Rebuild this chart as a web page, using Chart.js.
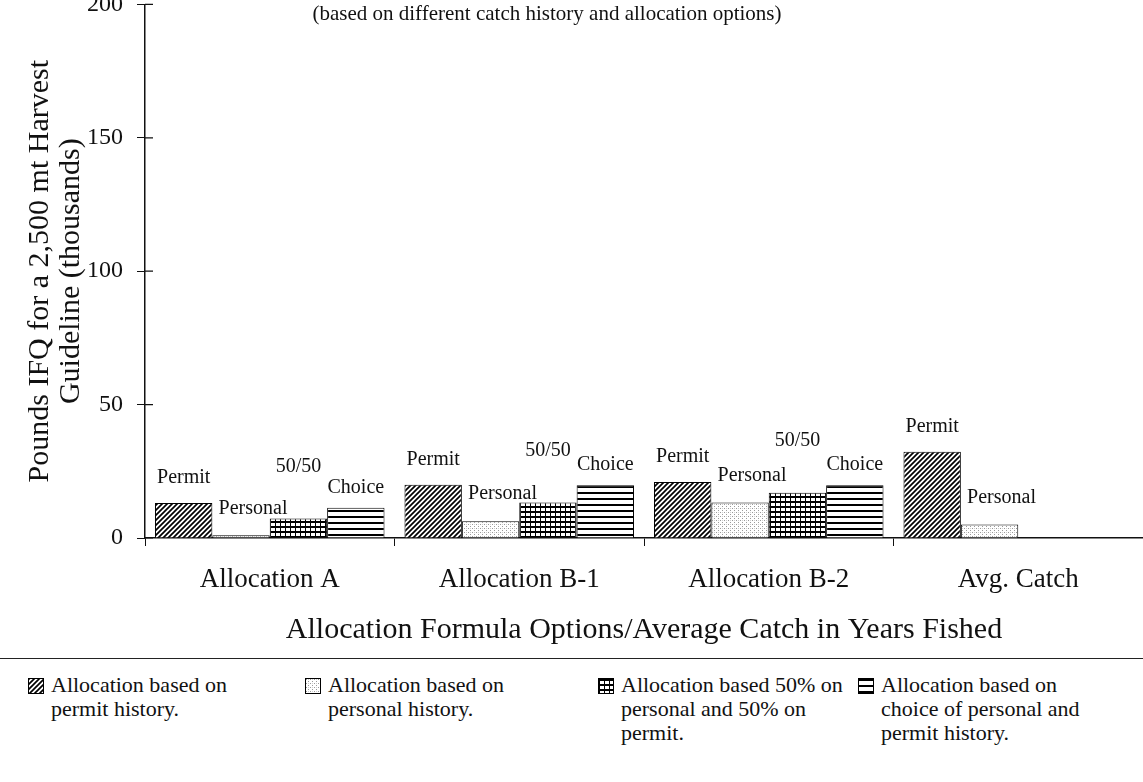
<!DOCTYPE html>
<html>
<head>
<meta charset="utf-8">
<title>Pounds IFQ for a 2,500 mt Harvest Guideline</title>
<script src="https://cdn.jsdelivr.net/npm/chart.js@4.4.0/dist/chart.umd.min.js"></script>
<style>
  body { margin: 0; background: #fff; color: #111; font-family: 'Liberation Serif', 'Times New Roman', serif; }
  #page { width: 1143px; height: 782px; overflow: hidden; position: relative; }
  #chartBox { position: relative; width: 1143px; height: 682px; margin-top: -24px; }
  #legend { border-top: 1px solid #222; display: grid; grid-template-columns: 277px 293px 260px auto;
            padding: 14px 0 0 28px; font-size: 22px; line-height: 24px; }
  .item { display: flex; align-items: flex-start; }
  .item canvas { border: 1px solid #000; margin: 5px 7px 0 0; flex: none; }
  .item span { white-space: pre-line; }
</style>
</head>
<body>
<div id="page">
  <div id="chartBox"><canvas id="ifqChart"></canvas></div>
  <div id="legend"></div>
</div>
<script>
  // values (thousands of pounds)
  var categories = ['Allocation A', 'Allocation B-1', 'Allocation B-2', 'Avg. Catch'];
  var permitValues = [13.1, 20.0, 21.0, 32.3];
  var personalValues = [1.0, 6.3, 13.3, 5.1];
  var fiftyValues = [7.3, 13.3, 17.0, null];
  var choiceValues = [11.3, 19.8, 19.8, null];
  var barNames = ['Permit', 'Personal', '50/50', 'Choice'];
  var legendLabels = [
    'Allocation based on\npermit history.',
    'Allocation based on\npersonal history.',
    'Allocation based 50% on\npersonal and 50% on\npermit.',
    'Allocation based on\nchoice of personal and\npermit history.'
  ];
  var yTicks = [0, 50, 100, 150, 200];

  var serif = "'Liberation Serif', 'Times New Roman', serif";
  var ink = '#111';

  // fill patterns like the old black & white printout
  function makeTile(w, h, draw) {
    var c = document.createElement('canvas');
    c.width = w; c.height = h;
    var g = c.getContext('2d');
    g.fillStyle = '#fff';
    g.fillRect(0, 0, w, h);
    draw(g);
    return c;
  }
  var tiles = [
    makeTile(5, 5, function (g) {          // diagonal hatch
      g.strokeStyle = '#000'; g.lineWidth = 1.7;
      g.beginPath();
      g.moveTo(-1, 6); g.lineTo(6, -1);
      g.moveTo(-1, 1); g.lineTo(1, -1);
      g.moveTo(4, 6); g.lineTo(6, 4);
      g.stroke();
    }),
    makeTile(4, 4, function (g) {          // light stipple
      g.fillStyle = '#9a9a9a';
      g.fillRect(0, 0, 1, 1); g.fillRect(2, 2, 1, 1);
      g.fillStyle = '#d0d0d0';
      g.fillRect(2, 0, 1, 1);
    }),
    makeTile(5, 5, function (g) {          // grid
      g.fillStyle = '#000';
      g.fillRect(0, 0, 5, 2);
      g.fillRect(0, 0, 1, 5);
    }),
    makeTile(4, 6, function (g) {          // horizontal stripes
      g.fillStyle = '#000';
      g.fillRect(0, 0, 4, 2);
    })
  ];
  var scratch = document.createElement('canvas').getContext('2d');
  var patterns = tiles.map(function (t) { return scratch.createPattern(t, 'repeat'); });

  var seriesValues = [permitValues, personalValues, fiftyValues, choiceValues];
  // label lift above bar top and sideways shift, px
  var labelPlace = [{ dx: 0, lift: 25 }, { dx: 12, lift: 27 }, { dx: 0, lift: 52 }, { dx: 0, lift: 20 }];

  var datasets = seriesValues.map(function (vals, i) {
    return {
      label: legendLabels[i],
      shortName: barNames[i],
      data: vals,
      backgroundColor: patterns[i],
      borderColor: '#000',
      borderWidth: 1,
      borderSkipped: 'bottom',
      place: labelPlace[i]
    };
  });

  var barLabels = {
    id: 'barLabels',
    afterDatasetsDraw: function (chart) {
      var ctx = chart.ctx;
      ctx.save();
      ctx.font = '20px ' + serif;
      ctx.fillStyle = ink;
      ctx.textAlign = 'center';
      ctx.textBaseline = 'middle';
      chart.data.datasets.forEach(function (ds, i) {
        chart.getDatasetMeta(i).data.forEach(function (bar, j) {
          if (ds.data[j] == null) return;
          ctx.fillText(ds.shortName, bar.x + ds.place.dx, bar.y - ds.place.lift);
        });
      });
      ctx.restore();
    }
  };

  // tick marks on the y axis cross the line in the original
  var innerTicks = {
    id: 'innerTicks',
    afterDraw: function (chart) {
      var y = chart.scales.y, ctx = chart.ctx;
      ctx.save();
      ctx.strokeStyle = ink; ctx.lineWidth = 1.2;
      ctx.beginPath();
      y.ticks.forEach(function (t) {
        var py = y.getPixelForValue(t.value);
        ctx.moveTo(y.right, py); ctx.lineTo(y.right + 8, py);
      });
      ctx.stroke();
      ctx.restore();
    }
  };

  var subtitle = {
    id: 'subtitleText',
    afterDraw: function (chart) {
      var ctx = chart.ctx;
      ctx.save();
      ctx.font = '21px ' + serif;
      ctx.fillStyle = ink;
      ctx.textAlign = 'center';
      ctx.textBaseline = 'middle';
      ctx.fillText('(based on different catch history and allocation options)', 547, chart.chartArea.top + 10);
      ctx.restore();
    }
  };

  var htmlLegend = {
    id: 'htmlLegend',
    afterUpdate: function (chart) {
      var box = document.getElementById('legend');
      box.innerHTML = '';
      chart.data.datasets.forEach(function (ds) {
        var item = document.createElement('div');
        item.className = 'item';
        var sw = document.createElement('canvas');
        sw.width = 14; sw.height = 14;
        var g = sw.getContext('2d');
        g.fillStyle = ds.backgroundColor;
        g.fillRect(0, 0, 14, 14);
        var txt = document.createElement('span');
        txt.textContent = ds.label;
        item.appendChild(sw);
        item.appendChild(txt);
        box.appendChild(item);
      });
    }
  };

  var ctx = document.getElementById('ifqChart').getContext('2d');
  var ifqChart = new Chart(ctx, {
    type: 'bar',
    data: { labels: categories, datasets: datasets },
    plugins: [barLabels, innerTicks, subtitle, htmlLegend],
    options: {
      responsive: true,
      maintainAspectRatio: false,
      animation: false,
      layout: { padding: 0 },
      datasets: { bar: { categoryPercentage: 0.92, barPercentage: 1.0 } },
      plugins: { legend: { display: false }, tooltip: { enabled: false } },
      scales: {
        x: {
          afterFit: function (s) { s.height = 120; },
          grid: { drawOnChartArea: false, tickLength: 8, color: ink },
          border: { color: ink, width: 1.5 },
          ticks: { color: ink, font: { family: serif, size: 27 }, padding: 18 },
          title: {
            display: true,
            text: 'Allocation Formula Options/Average Catch in Years Fished',
            color: ink,
            font: { family: serif, size: 30 },
            padding: { top: 2, bottom: 10 }
          }
        },
        y: {
          min: 0,
          max: 200,
          afterFit: function (s) { s.width = 145; },
          afterBuildTicks: function (s) { s.ticks = yTicks.map(function (v) { return { value: v }; }); },
          grid: { drawOnChartArea: false, tickLength: 8, color: ink },
          border: { color: ink, width: 1.5 },
          ticks: { color: ink, font: { family: serif, size: 24 }, padding: 14 },
          title: {
            display: true,
            text: ['Pounds IFQ for a 2,500 mt Harvest', 'Guideline (thousands)'],
            color: ink,
            font: { family: serif, size: 30, lineHeight: 1.05 },
            padding: { top: 24, bottom: 0 }
          }
        }
      }
    }
  });
</script>
</body>
</html>
